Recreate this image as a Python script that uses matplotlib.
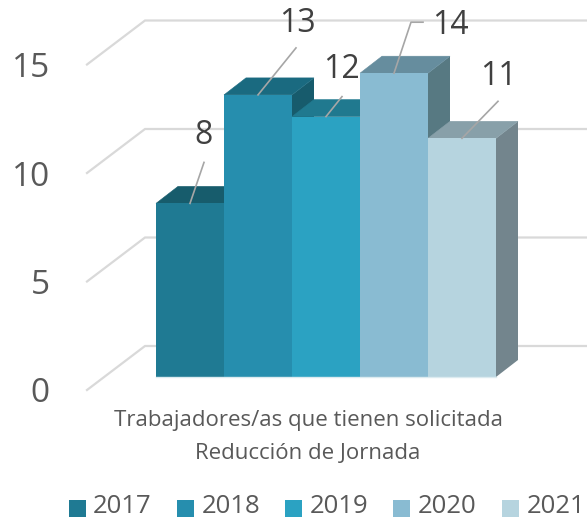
from matplotlib import pyplot as plt
from matplotlib.legend_handler import HandlerPatch
from matplotlib.patches import Polygon, Patch, Rectangle

years = ['2017', '2018', '2019', '2020', '2021']
values = [8, 13, 12, 14, 11]
grid_values = [0, 5, 10, 15]
category = 'Trabajadores/as que tienen solicitada\nReducción de Jornada'

front_colors = ['#1f7a93', '#268eae', '#2ba2c2', '#89bbd2', '#b6d4df']
top_colors = ['#175c6c', '#1a6a80', '#20798f', '#668d9e', '#88a0a9']
side_colors = ['#175c6c', '#175b6c', '#1a6a80', '#577982', '#73858d']

plt.rcParams['font.family'] = ['Open Sans', 'DejaVu Sans']

# one axes over the whole figure, 68px per bar and 21.7px per unit
W, H = 587, 520
px_x, px_y = 68.0, 21.7
x0, y0 = 156, 377

fig = plt.figure(figsize=(W / 100, H / 100), dpi=100)
ax = fig.add_axes([0, 0, 1, 1])
ax.set_xlim(-x0 / px_x, (W - x0) / px_x)
ax.set_ylim(-(H - y0) / px_y, y0 / px_y)
ax.axis('off')

# depth of the bars and of the floor, in data units
bar_dx, bar_dy = 22 / px_x, 17 / px_y
wall_x, wall_y = -11 / px_x, 31 / px_y
floor_x, floor_y = -69 / px_x, -13 / px_y
tick_shift = -4 / px_y

for v in grid_values:
    ax.plot([floor_x, wall_x, (W - x0) / px_x], [v + floor_y, v + wall_y, v + wall_y],
            color='#d9d9d9', lw=1.6, solid_joinstyle='miter', zorder=1)
    ax.text((50 - x0) / px_x, v + floor_y + tick_shift, str(v), ha='right', va='center',
            fontsize=24, color='#595959')

for i, v in enumerate(values):
    z = 2 + i
    ax.add_patch(Polygon([(i + 1, 0), (i + 1 + bar_dx, bar_dy), (i + 1 + bar_dx, v + bar_dy), (i + 1, v)],
                         facecolor=side_colors[i], edgecolor='none', zorder=z))
    # hairline edge hides the seam against the bar on the left
    ax.add_patch(Polygon([(i, v), (i + bar_dx, v + bar_dy), (i + 1 + bar_dx, v + bar_dy), (i + 1, v)],
                         facecolor=top_colors[i], edgecolor=top_colors[i], lw=0.4, zorder=z))
    ax.bar(i + 0.5, v, width=1, color=front_colors[i], zorder=z)

# thin light edge along the foot of the bars
ax.plot([0, len(values)], [0, 0], color='#dcebf0', lw=1, zorder=9)

# leader paths and label centres in pixels from the top centre of each bar
leaders = [
    [(0, 0), (14, 41)],
    [(0, 0), (38, 47)],
    [(0, 0), (16, 20)],
    [(0, 0), (17, 51), (29, 51)],
    [(0, 0), (36, 37)],
]
label_offsets = [(14, 68), (39, 71), (15, 47), (56, 48), (36, 62)]

for i, v in enumerate(values):
    path = leaders[i]
    ax.plot([i + 0.5 + p[0] / px_x for p in path], [v + p[1] / px_y for p in path],
            color='#a6a6a6', lw=1.2, zorder=10)
    lx, ly = label_offsets[i]
    ax.text(i + 0.5 + lx / px_x, v + ly / px_y, str(v), ha='center', va='center',
            fontsize=23, color='#404040', zorder=11)

ax.text((308 - x0) / px_x, (y0 - 437) / px_y, category, ha='center', va='center',
        fontsize=16, color='#595959', linespacing=1.72)


# swatches sit a little lower than the legend text
def low_swatch(legend, orig_handle, xdescent, ydescent, width, height, fontsize):
    return Rectangle((-xdescent, -ydescent - 3), width, height)


handles = [Patch(facecolor=c, edgecolor='none', label=y) for c, y in zip(front_colors, years)]
fig.legend(handles=handles, loc='lower left', bbox_to_anchor=(66 / W, -2 / H), ncol=5, frameon=False,
           fontsize=18.5, labelcolor='#595959', handlelength=0.66, handleheight=0.66,
           handletextpad=0.3, columnspacing=0.97, borderpad=0.1, borderaxespad=0,
           handler_map={Patch: HandlerPatch(patch_func=low_swatch)})

fig.savefig('out.png', dpi=100)
